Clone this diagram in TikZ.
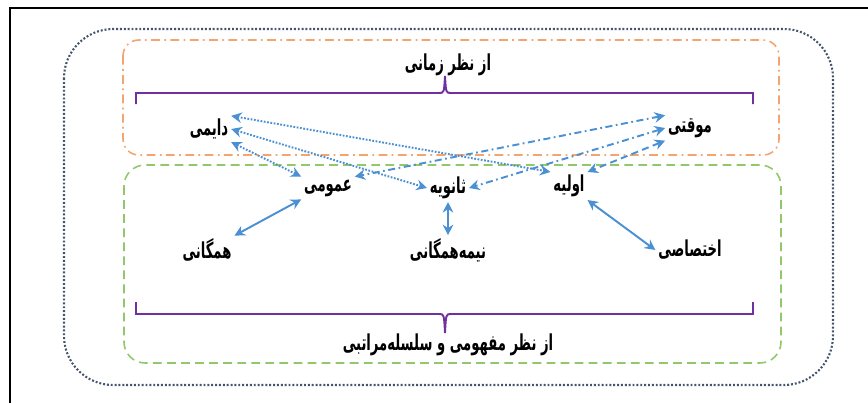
\documentclass[tikz,border=0pt]{standalone}
\usepackage{fontspec}
\newfontfamily\farsi[Script=Arabic]{DejaVu Sans}
\TeXXeTstate=1
\usetikzlibrary{arrows.meta}
\definecolor{arrowblue}{HTML}{4A90D2}
\definecolor{bracepurple}{HTML}{7030A0}
\definecolor{timeorange}{HTML}{F4A46E}
\definecolor{conceptgreen}{HTML}{92C86A}
\definecolor{frameslate}{HTML}{44546A}
\newcommand{\fa}[1]{{\farsi\bfseries\scalebox{0.6}[1]{\beginR #1\endR}}}

\begin{document}
\begin{tikzpicture}[x=0.02cm,y=-0.02cm]
      \tikzstyle word=[font=\fontsize{12.5}{14}\selectfont, inner sep=1.5pt]
      \tikzstyle link=[color=arrowblue, line width=1.1pt,
      {Stealth[length=6pt,width=6pt,inset=2pt]}-{Stealth[length=6pt,width=6pt,inset=2pt]}]
      \tikzstyle dotlink=[link, dash pattern=on 1pt off 0.9pt]
      \tikzstyle dashdotlink=[link, dash pattern=on 4pt off 2pt on 1pt off 2pt]
      \tikzstyle dashlink=[link, dash pattern=on 4pt off 2.5pt]
      \tikzstyle brace=[color=bracepurple, line width=1.1pt]
      \useasboundingbox (0,0) rectangle (868,403);
      % frame and groups
      \draw [line width=1.7pt] (10,403) -- (10,8) -- (868,8);
      \draw [color=frameslate, line width=1.2pt, dash pattern=on 1.1pt off 1.1pt,
        rounded corners=28pt] (64,29) rectangle (833,385);
      \draw [color=timeorange, line width=0.9pt, dash pattern=on 5pt off 2.5pt on 1pt off 2.5pt,
        rounded corners=9pt] (123,40) rectangle (779,155);
      \draw [color=conceptgreen, line width=0.9pt, dash pattern=on 5pt off 3pt,
        rounded corners=12pt] (124,165) rectangle (781,363);
      % titles and braces
      \node [word] (zamani) at (448,65) {\fa{از نظر زمانی}};
      \draw [brace] (136,104) |- (439,93) .. controls (444,93) .. (445,76)
        .. controls (446,93) .. (451,93) -| (753,104);
      \node [word] (mafhumi) at (448,345) {\fa{از نظر مفهومی و سلسله‌مراتبی}};
      \draw [brace] (136,302) |- (439,314) .. controls (444,314) .. (445,333)
        .. controls (446,314) .. (451,314) -| (753,302);
      % terms
      \node [word] (daemi) at (209,129) {\fa{دایمی}};
      \node [word] (movaghati) at (690,128) {\fa{موقتی}};
      \node [word] (omumi) at (328,188) {\fa{عمومی}};
      \node [word] (sanavie) at (448,188) {\fa{ثانویه}};
      \node [word] (avalie) at (569,186) {\fa{اولیه}};
      \node [word] (hamegani) at (207,250) {\fa{همگانی}};
      \node [word] (nimehamegani) at (448,250) {\fa{نیمه‌همگانی}};
      \node [word] (ekhtesasi) at (690,250) {\fa{اختصاصی}};
      % links
      \draw [dotlink] (daemi.north east) -- (avalie.north west);
      \draw [dotlink] (daemi.east) -- (sanavie.west);
      \draw [dotlink] (daemi.south east) -- (omumi.north west);
      \draw [dashdotlink] (movaghati.north west) -- (omumi.north east);
      \draw [dashdotlink] (movaghati.west) -- (sanavie.east);
      \draw [dashlink] (movaghati.south west) -- (avalie.north east);
      \draw [link] (omumi.south west) -- (hamegani.north east);
      \draw [link] (sanavie.south) -- (nimehamegani.north);
      \draw [link] (avalie.south east) -- (ekhtesasi.west);
    \end{tikzpicture}
\end{document}
